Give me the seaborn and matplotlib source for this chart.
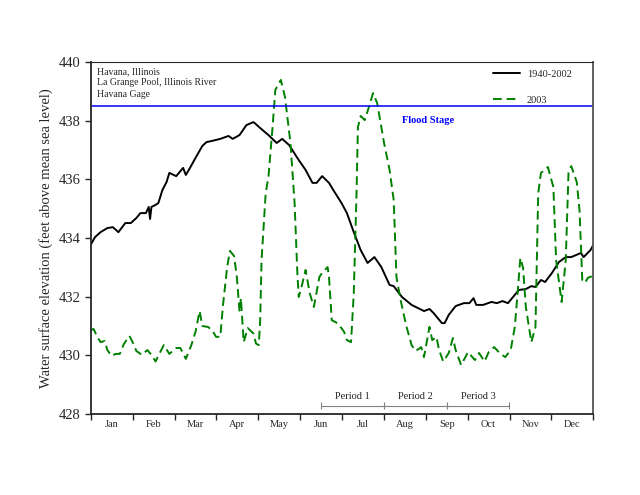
import numpy as np
import pandas as pd
import seaborn as sns
import matplotlib
matplotlib.use('Agg')
import matplotlib.pyplot as plt

# Day of year and water elevation (ft)
mean_days = [0, 3, 7, 12, 16, 20, 25, 29, 33, 36, 40, 42, 43, 44, 47, 49, 52, 55, 57, 62,
             67, 69, 72, 76, 81, 84, 88, 94, 100, 103, 108, 113, 118, 119, 123, 129, 135, 139, 144, 151,
             156, 161, 164, 168, 173, 177, 182, 186, 191, 196, 201, 206, 211, 217, 220, 226, 233, 236, 242, 246,
             249, 255, 257, 260, 265, 271, 275, 278, 280, 285, 291, 295, 299, 303, 311, 316, 320, 323, 327, 330,
             335, 340, 345, 349, 356, 358, 363, 365]
mean_elev = [433.78, 434.03, 434.20, 434.34, 434.37, 434.20, 434.51, 434.51, 434.68, 434.85,
             434.85, 435.06, 434.65, 435.06, 435.13, 435.19, 435.64, 435.91, 436.22, 436.11,
             436.39, 436.15, 436.39, 436.73, 437.14, 437.27, 437.31, 437.38, 437.48, 437.38,
             437.51, 437.85, 437.95, 437.92, 437.75, 437.51, 437.24, 437.38, 437.17, 436.66,
             436.32, 435.88, 435.88, 436.11, 435.88, 435.57, 435.20, 434.85, 434.20, 433.59,
             433.15, 433.35, 433.01, 432.40, 432.36, 431.99, 431.72, 431.65, 431.51, 431.58,
             431.44, 431.10, 431.10, 431.38, 431.68, 431.78, 431.78, 431.95, 431.72, 431.72,
             431.82, 431.78, 431.85, 431.78, 432.23, 432.26, 432.36, 432.33, 432.57, 432.50,
             432.81, 433.18, 433.35, 433.35, 433.49, 433.35, 433.59, 433.76]

y2003_days = [0, 2, 4, 7, 10, 12, 15, 18, 21, 24, 28, 31, 33, 37, 41, 44, 47, 50, 53, 57,
              62, 65, 69, 73, 76, 79, 81, 85, 88, 91, 94, 96, 99, 101, 104, 106, 108, 109, 111, 114,
              118, 120, 122, 123, 124, 127, 129, 132, 134, 138, 141, 145, 148, 150, 151, 153, 156, 159, 162, 166,
              168, 172, 173, 175, 179, 182, 184, 186, 189, 191, 193, 194, 196, 199, 202, 205, 208, 213, 217, 220,
              222, 225, 229, 233, 236, 240, 242, 246, 248, 251, 253, 256, 260, 263, 265, 269, 274, 279, 282, 286,
              289, 293, 297, 301, 305, 308, 310, 312, 314, 316, 320, 323, 325, 327, 332, 336, 338, 342, 345, 347,
              349, 353, 355, 357, 359, 361, 364, 365]
y2003_elev = [430.86, 430.90, 430.69, 430.45, 430.49, 430.18, 429.98, 430.05, 430.05, 430.39,
              430.66, 430.39, 430.15, 430.02, 430.18, 430.02, 429.79, 430.08, 430.35, 430.05,
              430.25, 430.25, 429.88, 430.35, 430.80, 431.51, 431.00, 430.97, 430.86, 430.63,
              430.63, 431.72, 433.01, 433.56, 433.39, 432.70, 431.48, 431.95, 430.45, 430.93,
              430.75, 430.40, 430.35, 431.20, 433.25, 435.53, 436.08, 437.78, 439.05, 439.39,
              438.81, 437.24, 435.19, 432.81, 431.99, 432.33, 432.91, 432.12, 431.65, 432.67,
              432.81, 433.01, 432.67, 431.20, 431.10, 430.93, 430.80, 430.52, 430.45, 432.12,
              435.53, 437.78, 438.16, 438.02, 438.47, 438.94, 438.60, 437.24, 436.32, 435.30,
              432.67, 431.89, 431.03, 430.35, 430.15, 430.28, 429.94, 430.97, 430.52, 430.63,
              430.18, 429.79, 430.08, 430.59, 430.18, 429.67, 430.11, 429.84, 430.08, 429.79,
              430.11, 430.28, 430.08, 429.94, 430.18, 430.97, 432.12, 433.32, 432.98, 431.65,
              430.45, 430.97, 435.53, 436.22, 436.42, 435.74, 433.25, 431.82, 433.25, 436.22,
              436.45, 435.91, 434.95, 432.57, 432.47, 432.64, 432.70, 432.84]

months = ['Jan', 'Feb', 'Mar', 'Apr', 'May', 'Jun', 'Jul', 'Aug', 'Sep', 'Oct', 'Nov', 'Dec']
period_labels = ['Period 1', 'Period 2', 'Period 3']
period_edges = [167, 213, 259, 304]
flood_stage = 438.5

df_mean = pd.DataFrame({'day': mean_days, 'elev': mean_elev})
df_2003 = pd.DataFrame({'day': y2003_days, 'elev': y2003_elev})

sns.set_style('ticks')
plt.rcParams['font.family'] = ['Liberation Serif', 'DejaVu Serif']

fig = plt.figure(figsize=(6.4, 4.95), dpi=100)
ax = fig.add_axes([0.142, 0.1636, 0.785, 0.7111])

sns.lineplot(data=df_mean, x='day', y='elev', color='black', linewidth=1.4,
             estimator=None, ax=ax, label='1940-2002')
sns.lineplot(data=df_2003, x='day', y='elev', color='#008000', linewidth=1.4,
             linestyle=(0, (4.5, 2.5)), estimator=None, ax=ax, label='2003')

# flood stage line
ax.axhline(flood_stage, color='#0000ff', linewidth=1.1)
ax.text(245, 438.0, 'Flood Stage', color='#0000ff', fontsize=7.5,
        fontweight='bold', ha='center', va='center')

# site description
ax.text(0.012, 0.985, 'Havana, Illinois\nLa Grange Pool, Illinois River\nHavana Gage',
        transform=ax.transAxes, fontsize=7, va='top', ha='left', linespacing=1.3)

# period brackets
yb = 428.28
ax.plot([period_edges[0], period_edges[-1]], [yb, yb], color='gray', linewidth=0.8)
ax.vlines(period_edges, yb - 0.12, yb + 0.12, color='gray', linewidth=0.8)
for i, lab in enumerate(period_labels):
    ax.text((period_edges[i] + period_edges[i + 1]) / 2, yb + 0.17, lab,
            fontsize=7.5, ha='center', va='bottom', color='#222222')

ax.set_xlim(0, 365)
ax.set_ylim(428, 440)
ax.set_yticks(np.arange(428, 441, 2))
ax.tick_params(axis='y', labelsize=10.5, length=4, width=1, direction='out')

month_len = 365 / 12
ax.set_xticks(np.arange(13) * month_len)
ax.set_xticklabels([])
ax.set_xticks((np.arange(12) + 0.5) * month_len, minor=True)
ax.set_xticklabels(months, minor=True, fontsize=7.5)
ax.tick_params(axis='x', which='major', length=4, width=1, direction='out')
ax.tick_params(axis='x', which='minor', length=0, pad=4)

ax.set_xlabel('')
ax.set_ylabel('Water surface elevation (feet above mean sea level)', fontsize=10.5)

for side in ['left', 'bottom', 'right']:
    ax.spines[side].set_linewidth(1.3)
ax.spines['right'].set_color('#555555')
ax.spines['top'].set_linewidth(0.8)

ax.legend(loc='upper left', bbox_to_anchor=(0.785, 1.0), frameon=False,
          fontsize=7.5, labelspacing=1.65, handlelength=2.6, handletextpad=0.7,
          borderaxespad=0.3)

fig.savefig('out.png', dpi=100)
